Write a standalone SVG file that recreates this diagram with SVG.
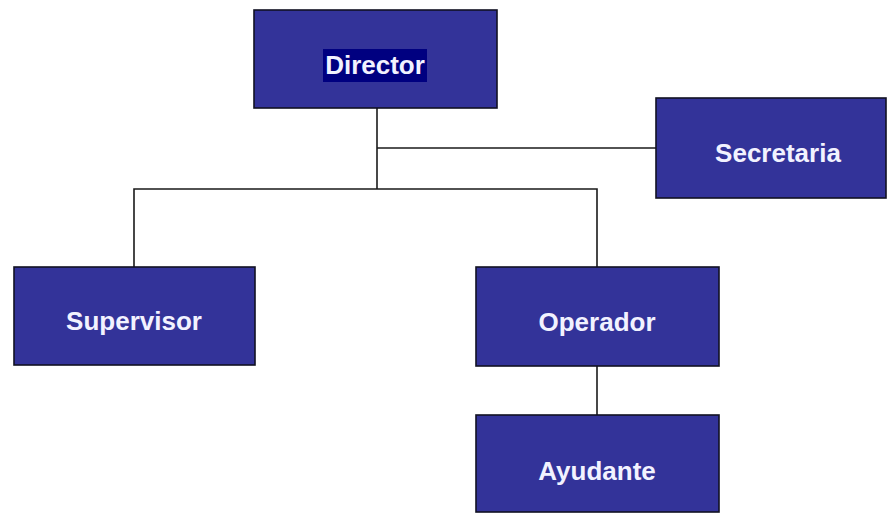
<svg xmlns="http://www.w3.org/2000/svg" width="888" height="513" viewBox="0 0 888 513">
<style>
.box{fill:#333399;stroke:#111122;stroke-width:1.6}
.lbl{font-family:"Liberation Sans",Arial,sans-serif;font-weight:bold;font-size:26px;fill:#f2f2ff;text-anchor:middle}
.conn{fill:none;stroke:#1a1a1a;stroke-width:1.6}
</style>
<rect width="888" height="513" fill="#ffffff"/>
<g id="connectors">
<path class="conn" d="M377,108 V189"/>
<path class="conn" d="M377,148 H656"/>
<path class="conn" d="M134,267 V189 H597 V267"/>
<path class="conn" d="M597,366 V415"/>
</g>
<g id="director">
<rect class="box" x="254" y="10" width="243" height="98"/>
<rect x="323" y="49" width="104" height="33" fill="#000080"/>
<text class="lbl" x="375" y="74">Director</text>
</g>
<g id="secretaria">
<rect class="box" x="656" y="98" width="230" height="100"/>
<text class="lbl" x="778" y="162">Secretaria</text>
</g>
<g id="supervisor">
<rect class="box" x="14" y="267" width="241" height="98"/>
<text class="lbl" x="134" y="330">Supervisor</text>
</g>
<g id="operador">
<rect class="box" x="476" y="267" width="243" height="99"/>
<text class="lbl" x="597" y="331">Operador</text>
</g>
<g id="ayudante">
<rect class="box" x="476" y="415" width="243" height="97"/>
<text class="lbl" x="597" y="480">Ayudante</text>
</g>
</svg>
